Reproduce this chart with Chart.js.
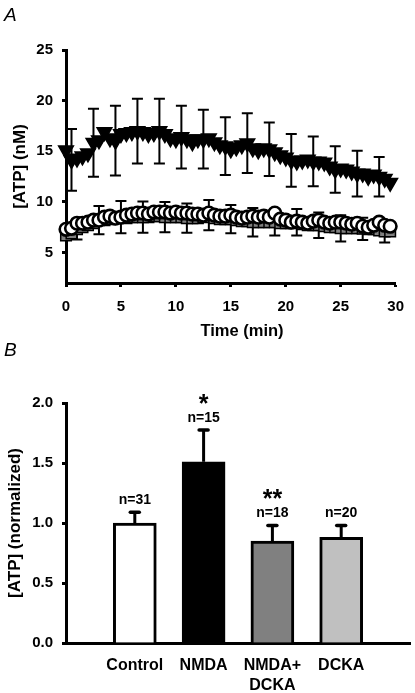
<!DOCTYPE html>
<html><head><meta charset="utf-8">
<script src="https://cdn.jsdelivr.net/npm/chart.js@4.4.1/dist/chart.umd.min.js"></script>
<style>
body{margin:0;background:#fff;}
#wrap{position:relative;width:415px;height:693px;overflow:hidden;font-family:"Liberation Sans",Arial,Helvetica,sans-serif;color:#000;}
.panel{position:absolute;font-style:italic;font-size:19px;line-height:19px;}
#tlabel{position:absolute;left:242px;top:322px;transform:translateX(-50%);font-weight:bold;font-size:16.5px;line-height:16.5px;white-space:nowrap;}
canvas{position:absolute;left:0;}
</style></head><body>
<div id="wrap">
<canvas id="ca" width="415" height="345" style="top:0"></canvas>
<canvas id="cb" width="415" height="348" style="top:345px"></canvas>
<div class="panel" style="left:4px;top:5px">A</div>
<div class="panel" style="left:4px;top:340px">B</div>
<div id="tlabel">Time (min)</div>
</div>
<script>
// ---------- Panel A data ----------
const timeMin = [0,0.5,1,1.5,2,2.5,3,3.5,4,4.5,5,5.5,6,6.5,7,7.5,8,8.5,9,9.5,
  10,10.5,11,11.5,12,12.5,13,13.5,14,14.5,15,15.5,16,16.5,17,17.5,18,18.5,19,19.5,
  20,20.5,21,21.5,22,22.5,23,23.5,24,24.5,25,25.5,26,26.5,27,27.5,28,28.5,29,29.5];
const atpTriangles = [15.1,14.15,14.3,14.5,14.8,15.85,16.1,16.9,16.3,16.05,
  16.7,16.8,16.9,17.0,16.9,16.7,16.8,17.0,16.7,16.3,
  16.2,16.4,16.2,15.9,16.2,16.2,16.3,15.9,15.6,15.5,
  15.2,15.4,15.6,15.8,15.3,15.1,15.3,15.2,14.9,14.6,
  14.4,14.1,14.0,14.1,14.2,14.0,14.0,13.9,13.5,13.2,
  13.3,13.2,13.0,12.8,12.8,12.5,12.7,12.5,12.3,11.9];
const atpCircles = [7.3,7.4,7.9,7.9,8.0,8.2,8.2,8.5,8.6,8.4,
  8.5,8.7,8.8,8.9,8.9,8.8,9.0,9.0,9.0,8.9,
  9.0,8.9,8.9,8.8,8.8,8.7,8.9,8.7,8.6,8.6,
  8.7,8.5,8.4,8.5,8.6,8.5,8.6,8.5,8.9,8.3,
  8.2,8.0,8.1,8.0,7.9,8.1,8.2,8.0,7.9,8.0,
  8.0,7.9,7.8,7.9,7.6,7.5,7.7,8.0,7.7,7.6];
const atpSquares = [6.7,6.9,7.3,7.5,7.7,7.9,8.2,8.2,8.3,8.4,
  8.5,8.4,8.5,8.5,8.5,8.5,8.6,8.6,8.5,8.5,
  8.5,8.5,8.4,8.4,8.4,8.5,8.7,8.4,8.3,8.3,
  8.3,8.2,8.1,8.1,8.0,8.0,8.0,8.0,8.0,7.9,
  7.9,7.9,8.0,7.8,7.7,7.7,7.7,7.6,7.5,7.5,
  7.4,7.4,7.4,7.4,7.35,7.3,7.3,7.2,7.1,7.1];
const triErrTimes = [0.5,2.5,4.5,6.5,8.5,10.5,12.5,14.5,16.5,18.5,20.5,22.5,24.5,26.5,28.5];
const triSEM = [3.05,3.35,3.45,3.2,3.2,3.1,2.9,2.85,2.95,2.65,2.6,2.45,2.3,2.25,1.95];
const sqErrTimes = [1,3,5,7,9,11,13,15,17,19,21,23,25,27,29];
const sqSEM = [1.0,1.4,1.6,1.55,1.5,1.45,1.5,1.4,1.4,1.3,1.3,1.25,1.3,1.1,1.1];
const xTicksA = [0,5,10,15,20,25,30];
const yTicksA = [5,10,15,20,25];

// ---------- Panel B data ----------
const groupLabels = [['Control'], ['NMDA'], ['NMDA+','DCKA'], ['DCKA']];
const normATP = [1.00, 1.51, 0.85, 0.88];
const normSEM = [0.09, 0.265, 0.13, 0.10];
const nCounts = [31, 15, 18, 20];
const sigMarks = ['', '*', '**', ''];
const barColors = ['#ffffff', '#000000', '#808080', '#c0c0c0'];

const FAM = "'Liberation Sans', Arial, Helvetica, sans-serif";
Chart.defaults.font.family = FAM;
Chart.defaults.color = '#000';

const errA = {
  id: 'errA',
  beforeDatasetsDraw(chart) {
    const {ctx, scales: {x, y}} = chart;
    ctx.save();
    ctx.strokeStyle = '#000';
    ctx.lineWidth = 2;
    const draw = (times, vals, sems) => {
      times.forEach((t, k) => {
        const i = timeMin.indexOf(t);
        const m = vals[i], s = sems[k];
        const px = x.getPixelForValue(t);
        const y1 = y.getPixelForValue(m + s), y2 = y.getPixelForValue(m - s);
        ctx.beginPath();
        ctx.moveTo(px, y1); ctx.lineTo(px, y2);
        ctx.moveTo(px - 5.5, y1); ctx.lineTo(px + 5.5, y1);
        ctx.moveTo(px - 5.5, y2); ctx.lineTo(px + 5.5, y2);
        ctx.stroke();
      });
    };
    draw(sqErrTimes, atpSquares, sqSEM);
    draw(triErrTimes, atpTriangles, triSEM);
    ctx.restore();
  }
};

const pts = vals => timeMin.map((t, i) => ({x: t, y: vals[i]}));

new Chart(document.getElementById('ca'), {
  type: 'scatter',
  data: {
    datasets: [
      {data: pts(atpTriangles), pointStyle: 'triangle', rotation: 180, pointRadius: 8.5, pointHoverRadius: 8.5,
       backgroundColor: '#000', borderColor: '#000', borderWidth: 1.5, clip: false},
      {data: pts(atpCircles), pointStyle: 'circle', pointRadius: 6.3, pointHoverRadius: 6.3,
       backgroundColor: '#fff', borderColor: '#000', borderWidth: 2.6, clip: false},
      {data: pts(atpSquares), pointStyle: 'rect', pointRadius: 7.5, pointHoverRadius: 7.5,
       backgroundColor: '#808080', borderColor: '#000', borderWidth: 1.5, clip: false}
    ]
  },
  options: {
    responsive: false, animation: false, devicePixelRatio: 1,
    layout: {padding: {top: 50, right: 17, left: 0, bottom: 0}},
    plugins: {legend: {display: false}, tooltip: {enabled: false}},
    scales: {
      x: {
        type: 'linear', min: 0, max: 30,
        afterBuildTicks: s => { s.ticks = xTicksA.map(v => ({value: v})); },
        afterFit: s => { s.height = 62; },
        ticks: {font: {size: 15, weight: 'bold'}, color: '#000', padding: 11, maxRotation: 0},
        grid: {display: true, drawOnChartArea: false, drawTicks: true, tickLength: 4, tickWidth: 3, tickColor: '#000'},
        border: {display: true, width: 3, color: '#000'}
      },
      y: {
        type: 'linear', min: 2, max: 25,
        afterBuildTicks: s => { s.ticks = yTicksA.map(v => ({value: v})); },
        afterFit: s => { s.width = 66; },
        ticks: {font: {size: 15, weight: 'bold'}, color: '#000', padding: 9},
        grid: {display: true, drawOnChartArea: false, drawTicks: true, tickLength: 4, tickWidth: 3, tickColor: '#000'},
        border: {display: true, width: 3, color: '#000'},
        title: {display: true, text: '[ATP] (nM)', font: {size: 17, weight: 'bold'}, color: '#000', padding: {top: 10, bottom: 0}}
      }
    }
  },
  plugins: [errA]
});

const errB = {
  id: 'errB',
  afterDatasetsDraw(chart) {
    const {ctx, scales: {x, y}} = chart;
    ctx.save();
    ctx.strokeStyle = '#000';
    ctx.fillStyle = '#000';
    ctx.textAlign = 'center';
    ctx.textBaseline = 'alphabetic';
    normATP.forEach((m, k) => {
      const px = x.getPixelForValue(k + 1);
      const yt = y.getPixelForValue(m), ye = y.getPixelForValue(m + normSEM[k]);
      ctx.lineWidth = 3; ctx.lineCap = 'butt';
      ctx.beginPath(); ctx.moveTo(px, yt); ctx.lineTo(px, ye); ctx.stroke();
      ctx.lineWidth = 3.5; ctx.lineCap = 'round';
      ctx.beginPath(); ctx.moveTo(px - 4.5, ye); ctx.lineTo(px + 4.5, ye); ctx.stroke();
      ctx.font = 'bold 14px ' + FAM;
      ctx.fillText('n=' + nCounts[k], px, ye - 8);
      if (sigMarks[k]) {
        ctx.font = 'bold 25px ' + FAM;
        ctx.fillText(sigMarks[k], px, ye - 18);
      }
    });
    ctx.restore();
  }
};

new Chart(document.getElementById('cb'), {
  type: 'bar',
  data: {
    labels: [''].concat(groupLabels, ['']),
    datasets: [{
      data: [null].concat(normATP, [null]),
      backgroundColor: ['#fff'].concat(barColors, ['#fff']),
      borderColor: '#000', borderWidth: 3, barThickness: 43
    }]
  },
  options: {
    responsive: false, animation: false, devicePixelRatio: 1,
    layout: {padding: {top: 58, right: 2, left: 0, bottom: 0}},
    plugins: {legend: {display: false}, tooltip: {enabled: false}},
    scales: {
      x: {
        type: 'category', offset: false,
        afterFit: s => { s.height = 50; },
        ticks: {font: {size: 16, weight: 'bold', lineHeight: 1.25}, color: '#000', padding: 5, maxRotation: 0, autoSkip: false},
        grid: {display: false, offset: false},
        border: {display: true, width: 3, color: '#000'}
      },
      y: {
        min: 0, max: 2,
        afterFit: s => { s.width = 66; },
        ticks: {stepSize: 0.5, callback: v => Number(v).toFixed(1), font: {size: 15, weight: 'bold'}, color: '#000', padding: 9},
        grid: {display: true, drawOnChartArea: false, drawTicks: true, tickLength: 4, tickWidth: 3, tickColor: '#000'},
        border: {display: true, width: 3, color: '#000'},
        title: {display: true, text: '[ATP] (normalized)', font: {size: 17, weight: 'bold'}, color: '#000', padding: {top: 5, bottom: 0}}
      }
    }
  },
  plugins: [errB]
});
</script>
</body></html>
